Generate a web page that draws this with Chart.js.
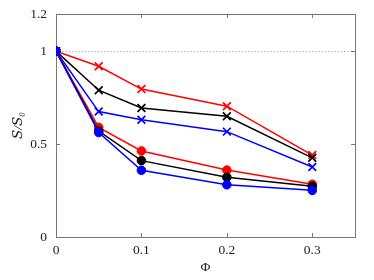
<!DOCTYPE html>
<html><head><meta charset="utf-8">
<script src="https://cdn.jsdelivr.net/npm/chart.js@4"></script>
<style>html,body{margin:0;padding:0;background:#fff}#w{width:374px;height:280px}</style>
</head><body><div id="w"><canvas id="c"></canvas></div>
<script>
const phi = [0, 0.05, 0.1, 0.2, 0.3];
const xTicks = [0, 0.1, 0.2, 0.3];
const yTicks = [0, 0.5, 1, 1.2];
const redCross   = [1, 0.919, 0.796, 0.704, 0.441];
const blackCross = [1, 0.790, 0.694, 0.650, 0.426];
const blueCross  = [1, 0.675, 0.631, 0.567, 0.377];
const redDot     = [1, 0.590, 0.463, 0.360, 0.284];
const blackDot   = [1, 0.570, 0.411, 0.321, 0.273];
const blueDot    = [1, 0.562, 0.359, 0.281, 0.251];

const FONT = "'Liberation Serif', 'DejaVu Serif', serif";
function ds(vals, color, style){
  return {data: phi.map((x,i)=>({x, y: vals[i]})), borderColor: color, backgroundColor: color,
    borderWidth: 1.5, pointStyle: style, pointRadius: style==='circle'?4.3:5.5,
    pointBorderWidth: style==='circle'?1:1.7, pointHoverRadius: 5, tension: 0};
}
const boxPlugin = {
  id: 'box',
  beforeDatasetsDraw(chart){
    const {ctx, chartArea: a, scales:{x, y}} = chart;
    ctx.save();
    ctx.strokeStyle = '#aaaaaa'; ctx.lineWidth = 1; ctx.setLineDash([1.2, 2]);
    const py = Math.round(y.getPixelForValue(1)) + 0.5;
    ctx.beginPath(); ctx.moveTo(a.left, py); ctx.lineTo(a.right, py); ctx.stroke();
    ctx.setLineDash([]);
    ctx.strokeStyle = '#777777'; ctx.lineWidth = 1;
    ctx.strokeRect(Math.round(a.left)+0.5, Math.round(a.top)+0.5, Math.round(a.right-a.left), Math.round(a.bottom-a.top));
    const L = 4;
    ctx.beginPath();
    xTicks.forEach(v=>{ const px = Math.round(x.getPixelForValue(v))+0.5;
      ctx.moveTo(px, a.bottom); ctx.lineTo(px, a.bottom-L);
      ctx.moveTo(px, a.top); ctx.lineTo(px, a.top+L); });
    yTicks.forEach(v=>{ const p = Math.round(y.getPixelForValue(v))+0.5;
      ctx.moveTo(a.left, p); ctx.lineTo(a.left+L, p);
      ctx.moveTo(a.right, p); ctx.lineTo(a.right-L, p); });
    ctx.stroke();
    ctx.restore();
  }
};
new Chart(document.getElementById('c'), {
  type: 'line',
  data: {datasets: [
    ds(blueDot, '#0000ff', 'circle'),
    ds(blackDot, '#000000', 'circle'),
    ds(redDot, '#ff0000', 'circle'),
    ds(blueCross, '#0000ff', 'crossRot'),
    ds(blackCross, '#000000', 'crossRot'),
    ds(redCross, '#ff0000', 'crossRot'),
  ]},
  options: {
    responsive: true, maintainAspectRatio: false, animation: false,
    layout: {padding: {left: 6, right: 19, top: 14, bottom: 0}},
    plugins: {legend: {display: false}, tooltip: {enabled: false}},
    scales: {
      x: {type: 'linear', min: 0, max: 0.35,
        afterBuildTicks: s => { s.ticks = xTicks.map(v=>({value: v})); },
        afterFit: s => { s.height = 43; s.paddingLeft = 0; s.paddingRight = 0; },
        grid: {display: false, tickLength: 0}, border: {display: false},
        ticks: {color: '#222', font: {family: FONT, size: 13.5}, padding: 5, callback: v => String(v)},
        title: {display: true, text: 'Φ', color: '#222', font: {family: FONT, size: 13.5}, padding: {top: 0, bottom: 4}}
      },
      y: {type: 'linear', min: 0, max: 1.2,
        afterBuildTicks: s => { s.ticks = yTicks.map(v=>({value: v})); },
        afterFit: s => { s.width = 50; s.paddingTop = 0; s.paddingBottom = 0; },
        grid: {display: false, tickLength: 0}, border: {display: false},
        ticks: {color: '#222', font: {family: FONT, size: 13.5}, padding: 9, callback: v => String(v)},
        title: {display: true, text: '𝑆/𝑆₀', color: '#222', font: {family: FONT, size: 13.5, style: 'italic'}, padding: {bottom: 2}}
      }
    }
  },
  plugins: [boxPlugin]
});
</script></body></html>
